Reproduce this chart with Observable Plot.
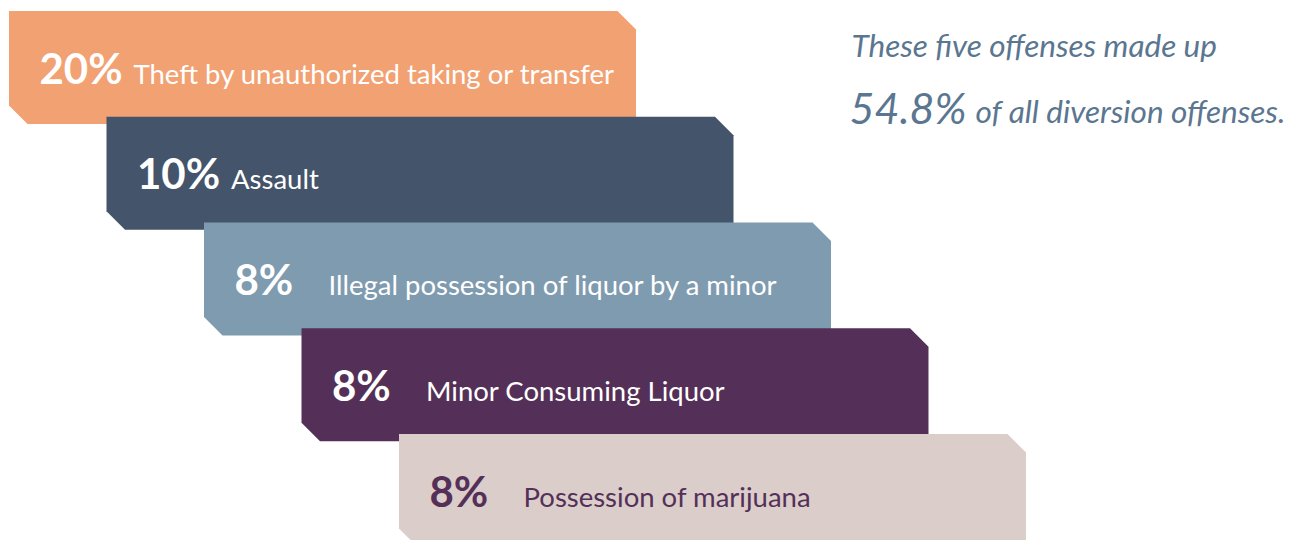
<!DOCTYPE html>
<html>
<head>
<meta charset="utf-8">
<script src="https://cdn.jsdelivr.net/npm/d3@7"></script>
<script src="https://cdn.jsdelivr.net/npm/@observablehq/plot@0.6"></script>
<style>
  html, body { margin: 0; padding: 0; background: #ffffff; }
  #chart svg { display: block; }
</style>
</head>
<body>
<div id="chart"></div>
<script>
// ---- data ----
const categories = [
  "Theft by unauthorized taking or transfer",
  "Assault",
  "Illegal possession of liquor by a minor",
  "Minor Consuming Liquor",
  "Possession of marijuana"
];
const shares = [20, 10, 8, 8, 8];
const shareLabels = ["20%", "10%", "8%", "8%", "8%"];
const totalShare = "54.8%";
const noteLine1 = "These five offenses made up";
const noteLine2 = "of all diversion offenses.";

// ---- styling / layout ----
const barColors = ["#F2A173", "#44546A", "#7F9BB0", "#543058", "#DBCDCA"];
const textColors = ["#ffffff", "#ffffff", "#ffffff", "#ffffff", "#543058"];
const noteColor = "#5A7690";
const W = 1304, H = 540;
const x0 = 9, stepX = 97.5, barW = 627, cutX = 18.5; // x units
const rowPx = 105.75, topPx = 11;
const barH = 113 / rowPx, cutY = 18.5 / rowPx;     // y units (rows)
const baseline = 72 / rowPx;

const rows = categories.map((c, i) => ({
  i, category: c, share: shares[i], label: shareLabels[i],
  left: x0 + stepX * i, fill: barColors[i], ink: textColors[i]
}));

// beveled bar outline as an area: y1 = top edge, y2 = bottom edge
const outline = rows.flatMap(d => {
  const L = d.left, R = d.left + barW, T = d.i, B = d.i + barH;
  return [
    {i: d.i, fill: d.fill, x: L,        y1: T,        y2: B - cutY},
    {i: d.i, fill: d.fill, x: L + cutX, y1: T,        y2: B},
    {i: d.i, fill: d.fill, x: R - cutX, y1: T,        y2: B},
    {i: d.i, fill: d.fill, x: R,        y1: T + cutY, y2: B}
  ];
});

const chart = Plot.plot({
  width: W,
  height: H,
  margin: 0,
  style: {fontFamily: "Lato, sans-serif", background: "#ffffff"},
  x: {axis: null, domain: [0, W], range: [0, W]},
  y: {axis: null, domain: [-topPx / rowPx, (H - topPx) / rowPx], range: [0, H]},
  color: {type: "identity"},
  marks: [
    Plot.areaY(outline, {x: "x", y1: "y1", y2: "y2", z: "i", fill: "fill", curve: "linear", clip: true}),
    Plot.text(rows, {
      x: d => d.left + 30, y: d => d.i + baseline, text: "label",
      textAnchor: "start", lineAnchor: "bottom",
      fontSize: 42, fontWeight: 700, fill: "ink"
    }),
    Plot.text(rows, {
      x: d => d.left + 124, y: d => d.i + baseline, text: "category",
      textAnchor: "start", lineAnchor: "bottom",
      fontSize: 27.5, fill: "ink"
    }),
    Plot.text([noteLine1], {
      frameAnchor: "top-left", dx: 851, dy: 56, text: d => d,
      textAnchor: "start", lineAnchor: "bottom",
      fontSize: 31.5, fontStyle: "italic", fill: noteColor
    }),
    Plot.text([totalShare], {
      frameAnchor: "top-left", dx: 849, dy: 123, text: d => d,
      textAnchor: "start", lineAnchor: "bottom",
      fontSize: 43, fontStyle: "italic", fill: noteColor
    }),
    Plot.text([noteLine2], {
      frameAnchor: "top-left", dx: 975, dy: 122, text: d => d,
      textAnchor: "start", lineAnchor: "bottom",
      fontSize: 31.5, fontStyle: "italic", fill: noteColor
    })
  ]
});
document.getElementById("chart").appendChild(chart);
</script>
</body>
</html>
